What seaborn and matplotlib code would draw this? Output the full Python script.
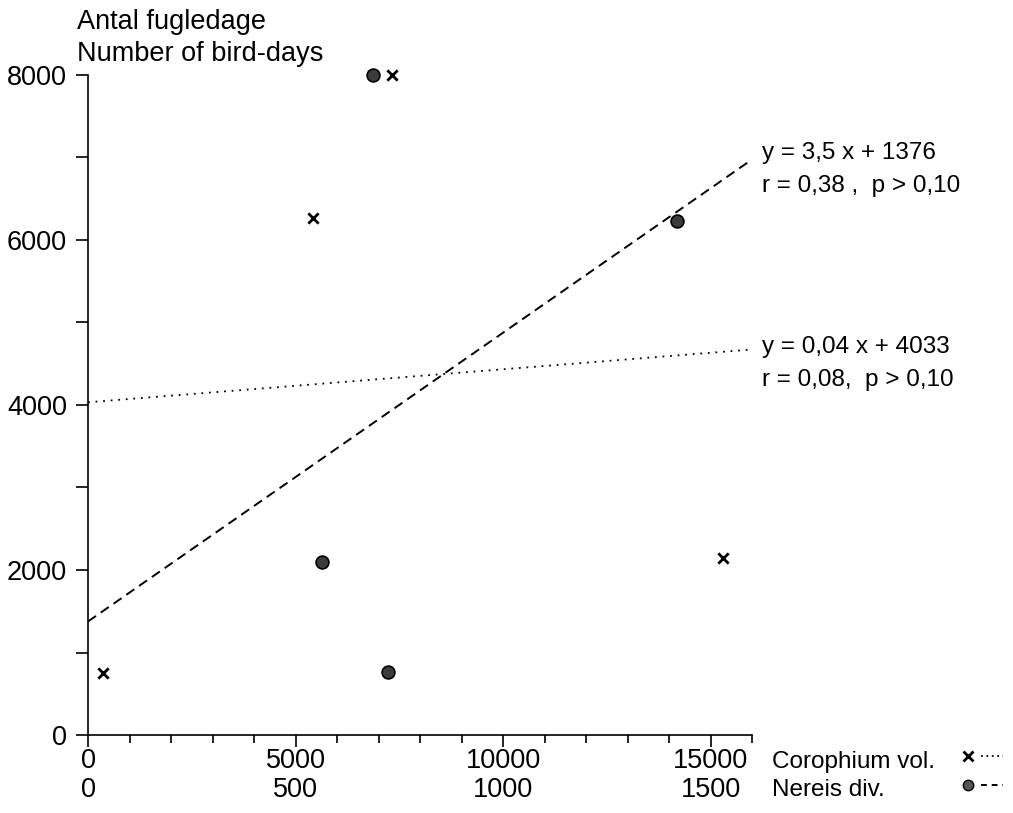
import numpy as np
import matplotlib
matplotlib.use("Agg")
import matplotlib.pyplot as plt
import seaborn as sns
from matplotlib.ticker import MultipleLocator, FixedLocator
from matplotlib.lines import Line2D
from matplotlib.legend_handler import HandlerTuple

# ---- data ----
coro_x = [354, 5422, 7325, 15294]          # Corophium vol. (x scale 0-16000)
coro_y = [755, 6267, 8000, 2142]
nereis_x = [563, 724, 687, 1419]           # Nereis div. (x scale 0-1600)
nereis_y = [2093, 760, 8000, 6234]

coro_fit = (0.04, 4033)                    # slope, intercept
nereis_fit = (3.5, 1376)
coro_eq = ["y = 0,04 x + 4033", "r = 0,08,  p > 0,10"]
nereis_eq = ["y = 3,5 x + 1376", "r = 0,38 ,  p > 0,10"]

coro_ticks = [0, 5000, 10000, 15000]
nereis_ticks = [0, 500, 1000, 1500]
y_ticks = [0, 2000, 4000, 6000, 8000]
coro_xmax = 16000
nereis_xmax = 1600
y_max = 8000
ylabel_lines = ["Antal fugledage", "Number of bird-days"]
legend_labels = ["Corophium vol.", "Nereis div."]

# ---- style ----
sns.set_theme(style="ticks")
plt.rcParams["font.family"] = ["Liberation Sans", "DejaVu Sans"]
FS = 19.5
FS_SMALL = 17.5
plt.rcParams["font.size"] = FS
plt.rcParams["axes.linewidth"] = 1.2
plt.rcParams["text.color"] = "black"
plt.rcParams["xtick.labelcolor"] = "black"
plt.rcParams["ytick.labelcolor"] = "black"

W, H = 1013, 813
fig = plt.figure(figsize=(W / 100, H / 100), dpi=100)
fig.patch.set_facecolor("white")
ax = fig.add_axes([88 / W, 1 - 735 / H, 664 / W, 660 / H])
ax2 = ax.twiny()

ax.set_xlim(0, coro_xmax)
ax.set_ylim(0, y_max)
ax2.set_xlim(0, nereis_xmax)

for a in (ax, ax2):
    a.set_facecolor("none")
    for s in ("top", "right"):
        a.spines[s].set_visible(False)
for s in ("left", "bottom"):
    ax2.spines[s].set_visible(False)
    ax.spines[s].set_color("black")

# x ticks (Corophium scale)
ax.xaxis.set_major_locator(FixedLocator(coro_ticks))
ax.xaxis.set_minor_locator(MultipleLocator(1000))
ax.set_xticklabels([str(t) for t in coro_ticks], fontsize=FS)
ax.tick_params(axis="x", which="major", direction="out", length=8.6, width=1.2,
               color="black", pad=1, labelcolor="black")
ax.tick_params(axis="x", which="minor", direction="out", length=5.8, width=1.2,
               color="black")

# y ticks
ax.yaxis.set_major_locator(FixedLocator(y_ticks))
ax.yaxis.set_minor_locator(MultipleLocator(1000))
ax.set_yticklabels([str(t) for t in y_ticks], fontsize=FS)
ax.tick_params(axis="y", which="both", direction="out", length=8.6, width=1.2,
               color="black", pad=6.5, labelcolor="black")

# second x scale (Nereis) as second row of labels
ax2.xaxis.set_ticks_position("bottom")
ax2.xaxis.set_major_locator(FixedLocator(nereis_ticks))
ax2.set_xticklabels([str(t) for t in nereis_ticks], fontsize=FS)
ax2.tick_params(axis="x", which="both", length=0, pad=30, labelcolor="black")
ax2.xaxis.set_minor_locator(plt.NullLocator())

# ---- regression lines ----
xs_c = np.array([0, coro_xmax])
ax.plot(xs_c, coro_fit[0] * xs_c + coro_fit[1], color="black", lw=1.3,
        linestyle=(0, (1, 3.2)), zorder=2)
xs_n = np.array([0, nereis_xmax])
ax2.plot(xs_n, nereis_fit[0] * xs_n + nereis_fit[1], color="black", lw=1.4,
         linestyle=(0, (5, 3)), zorder=2)

# ---- points ----
sns.scatterplot(x=coro_x, y=coro_y, ax=ax, marker="x", color="black", s=55,
                linewidth=2.0, clip_on=False, zorder=3)
sns.scatterplot(x=nereis_x, y=nereis_y, ax=ax2, marker="o", color="#3c3c3c",
                edgecolor="black", linewidth=1.2, s=85, clip_on=False, zorder=3)

# ---- equations ----
ax2.annotate("\n".join(nereis_eq),
             xy=(nereis_xmax, nereis_fit[0] * nereis_xmax + nereis_fit[1]),
             xycoords="data", xytext=(7, 12.5), textcoords="offset points",
             ha="left", va="top", fontsize=FS_SMALL, linespacing=1.62,
             color="black", annotation_clip=False)
ax.annotate("\n".join(coro_eq),
            xy=(coro_xmax, coro_fit[0] * coro_xmax + coro_fit[1]),
            xycoords="data", xytext=(7, 9.5), textcoords="offset points",
            ha="left", va="top", fontsize=FS_SMALL, linespacing=1.62,
            color="black", annotation_clip=False)

# ---- y label (two lines, top left) ----
fig.text(77 / W, 1 - 38 / H, "\n".join(ylabel_lines), ha="left",
         va="center", fontsize=FS, linespacing=1.26, color="black")

# ---- legend: label text, then marker + line ----
handles = [
    (Line2D([], [], marker="x", ls="none", color="black", ms=6.5, mew=2.0),
     Line2D([], [], ls=(0, (1, 2)), color="black", lw=1.3)),
    (Line2D([], [], marker="o", ls="none", mfc="#555555", mec="black",
            ms=7.5, mew=1.0),
     Line2D([], [], ls=(0, (3, 2.5)), color="black", lw=1.4)),
]
row_baselines = [768, 796.4]
row_centers = [758, 787]
for lab, hd, yb, yc in zip(legend_labels, handles, row_baselines, row_centers):
    fig.text(772 / W, 1 - yb / H, lab, ha="left", va="baseline",
             fontsize=FS_SMALL, color="black")
    fig.legend(handles=[hd], labels=[""],
               handler_map={tuple: HandlerTuple(ndivide=None, pad=0.1)},
               frameon=False, loc="center left",
               bbox_to_anchor=(957 / W, 1 - yc / H), borderaxespad=0,
               borderpad=0, handlelength=1.7, handletextpad=0, fontsize=FS)

fig.savefig("out.png", dpi=100, facecolor="white")
